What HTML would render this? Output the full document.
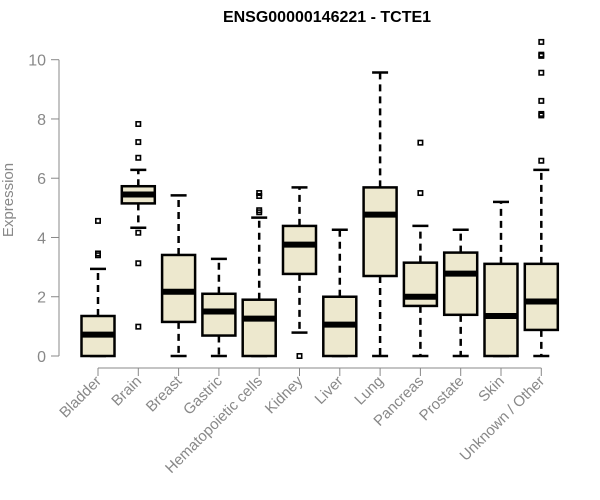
<!DOCTYPE html>
<html><head><meta charset="utf-8"><style>
body{margin:0;background:#fff;}
svg{display:block;font-family:"Liberation Sans",Arial,sans-serif;}
</style></head><body>
<svg id="chart" width="600" height="500">
<text x="327" y="22" text-anchor="middle" font-weight="bold" font-size="16" fill="#000">ENSG00000146221 - TCTE1</text>
<text transform="translate(13,200) rotate(-90)" text-anchor="middle" font-size="15" fill="#888">Expression</text>
<g id="yaxis"></g>
<g id="xaxis"></g>
<g id="boxes"></g>
</svg>
<script>
const categories=["Bladder","Brain","Breast","Gastric","Hematopoietic cells","Kidney","Liver","Lung","Pancreas","Prostate","Skin","Unknown / Other"];
const q1=[0,5.15,1.15,0.69,0,2.77,0,2.7,1.69,1.39,0,0.88];
const medians=[0.72,5.45,2.17,1.5,1.26,3.76,1.06,4.77,2.0,2.78,1.35,1.84];
const q3=[1.35,5.73,3.41,2.1,1.9,4.39,2.0,5.69,3.15,3.49,3.11,3.11];
const whiskLo=[0,4.33,0,0,0,0.79,0,0,0,0,0,0];
const whiskHi=[2.94,6.28,5.42,3.28,4.67,5.69,4.26,9.57,4.39,4.26,5.2,6.28];
const outliers=[[3.4,3.46,4.56],[0.99,3.13,4.16,6.69,7.22,7.83],[],[],[4.85,4.92,5.4,5.5],[0],[],[],[5.5,7.2],[],[],[6.59,8.12,8.17,8.61,9.56,10.13,10.17,10.6]];
const yTicks=[0,2,4,6,8,10];
const NS="http://www.w3.org/2000/svg";
const y=v=>356-v*29.63;
const x=i=>98+i*40.3;
function mk(tag,attrs,parent){const e=document.createElementNS(NS,tag);for(const k in attrs)e.setAttribute(k,attrs[k]);parent.appendChild(e);return e;}
const ya=document.getElementById('yaxis'),xa=document.getElementById('xaxis'),bx=document.getElementById('boxes');
mk('line',{x1:59,x2:59,y1:y(0),y2:y(10),stroke:'#888'},ya);
yTicks.forEach(t=>{
 const l=mk('line',{x1:51,x2:59,y1:y(t),y2:y(t),stroke:'#888'},ya);
 
 
 const tx=mk('text',{x:46,y:y(t)+6,'text-anchor':'end','font-size':16,fill:'#888'},ya);
 tx.textContent=t;
 
 
});
mk('line',{x1:x(0),x2:x(categories.length-1),y1:368,y2:368,stroke:'#888'},xa);
categories.forEach((c,i)=>{
 const cx=x(i),hw=16.5;
 const t=mk('line',{x1:cx,x2:cx,y1:368,y2:376,stroke:'#888'},xa);
 
 
 const lb=mk('text',{transform:`translate(${cx+4},382) rotate(-45)`,'text-anchor':'end','font-size':15,fill:'#888'},xa);
 lb.textContent=c;
 
 
 const g=mk('g',{},bx);
 
 
 mk('line',{x1:cx,x2:cx,y1:y(q3[i]),y2:y(whiskHi[i]),stroke:'#000','stroke-width':2.5,'stroke-dasharray':'7,5'},g);
 mk('line',{x1:cx,x2:cx,y1:y(q1[i]),y2:y(whiskLo[i]),stroke:'#000','stroke-width':2.5,'stroke-dasharray':'7,5'},g);
 mk('line',{x1:cx-8,x2:cx+8,y1:y(whiskHi[i]),y2:y(whiskHi[i]),stroke:'#000','stroke-width':2.5},g);
 mk('line',{x1:cx-8,x2:cx+8,y1:y(whiskLo[i]),y2:y(whiskLo[i]),stroke:'#000','stroke-width':2.5},g);
 mk('rect',{x:cx-hw,y:y(q3[i]),width:hw*2,height:Math.max(0,y(q1[i])-y(q3[i])),fill:'#EDE8CE',stroke:'#000','stroke-width':2.5},g);
 mk('line',{x1:cx-hw,x2:cx+hw,y1:y(medians[i]),y2:y(medians[i]),stroke:'#000','stroke-width':6},g);
 outliers[i].forEach(o=>{
  const p=mk('rect',{x:cx-2.2,y:y(o)-2.2,width:4.4,height:4.4,fill:'none',stroke:'#000','stroke-width':1.6},g);
  
  
 });
});
</script>
</body></html>
